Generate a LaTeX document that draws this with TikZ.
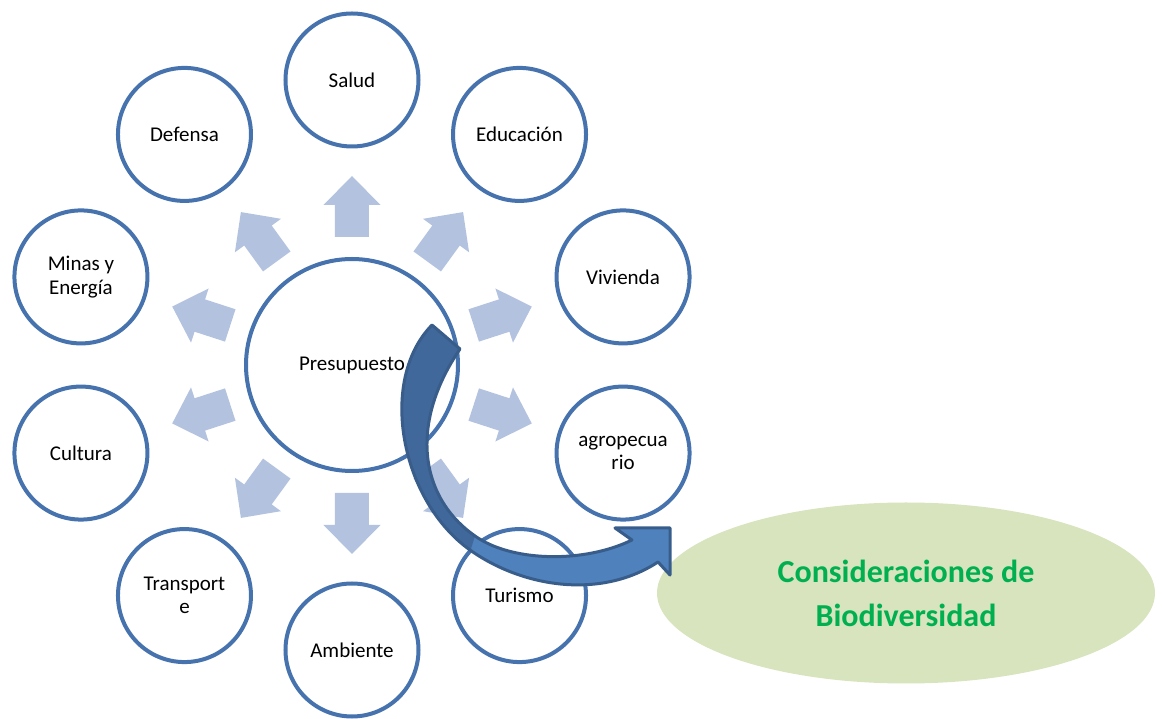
\documentclass[tikz,border=0pt]{standalone}
\usepackage{fontspec}
\setmainfont{Carlito}
\usepackage{tikz}
\usetikzlibrary{shapes,positioning}
\definecolor{ringblue}{HTML}{4672AD}
\definecolor{spokeblue}{HTML}{B3C3DF}
\definecolor{bendblue}{HTML}{4F81BD}
\definecolor{benddark}{HTML}{41689B}
\definecolor{bendline}{HTML}{385D8A}
\definecolor{goalfill}{HTML}{D7E4BD}
\definecolor{goaltext}{HTML}{00B050}
\tikzstyle{topic}=[draw=ringblue,circle,line width=4pt,fill=white,align=center,minimum size=133pt,inner sep=0pt,font=\fontsize{21}{23.5}\selectfont]
\tikzstyle{budget}=[topic,minimum size=212pt]
\tikzstyle{spoke}=[fill=spokeblue]
\tikzstyle{goal}=[ellipse,fill=goalfill,minimum width=498pt,minimum height=181pt,inner sep=0pt,align=center,text=goaltext,font=\fontsize{32}{44}\selectfont\bfseries]
\tikzstyle{bendarrow}=[draw=bendline,line width=3pt,line join=round,fill=bendblue]

\begin{document}
\begin{tikzpicture}[x=1pt,y=1pt]
\useasboundingbox (-352,-354) rectangle (810,365);

	\node[budget] (pr) at (0,0) {Presupuesto};

	\node[topic] (sa) at (90:285) {Salud};
	\node[topic] (ed) at (54:285) {Educación};
	\node[topic] (vi) at (18:285) {Vivienda};
	\node[topic] (ag) at (-18:285) {agropecua\\rio};
	\node[topic] (tu) at (-54:285) {Turismo};
	\node[topic] (am) at (-90:285) {Ambiente};
	\node[topic] (tr) at (-126:285) {Transport\\e};
	\node[topic] (cu) at (-162:285) {Cultura};
	\node[topic] (mi) at (162:285) {Minas y\\Energía};
	\node[topic] (de) at (126:285) {Defensa};

	\fill[spoke,rotate=90] (128,-17) -- (160,-17) -- (160,-28.5) -- (189,0) -- (160,28.5) -- (160,17) -- (128,17) -- cycle;
	\fill[spoke,rotate=54] (128,-17) -- (160,-17) -- (160,-28.5) -- (189,0) -- (160,28.5) -- (160,17) -- (128,17) -- cycle;
	\fill[spoke,rotate=18] (128,-17) -- (160,-17) -- (160,-28.5) -- (189,0) -- (160,28.5) -- (160,17) -- (128,17) -- cycle;
	\fill[spoke,rotate=-18] (128,-17) -- (160,-17) -- (160,-28.5) -- (189,0) -- (160,28.5) -- (160,17) -- (128,17) -- cycle;
	\fill[spoke,rotate=-54] (128,-17) -- (160,-17) -- (160,-28.5) -- (189,0) -- (160,28.5) -- (160,17) -- (128,17) -- cycle;
	\fill[spoke,rotate=-90] (128,-17) -- (160,-17) -- (160,-28.5) -- (189,0) -- (160,28.5) -- (160,17) -- (128,17) -- cycle;
	\fill[spoke,rotate=-126] (128,-17) -- (160,-17) -- (160,-28.5) -- (189,0) -- (160,28.5) -- (160,17) -- (128,17) -- cycle;
	\fill[spoke,rotate=-162] (128,-17) -- (160,-17) -- (160,-28.5) -- (189,0) -- (160,28.5) -- (160,17) -- (128,17) -- cycle;
	\fill[spoke,rotate=162] (128,-17) -- (160,-17) -- (160,-28.5) -- (189,0) -- (160,28.5) -- (160,17) -- (128,17) -- cycle;
	\fill[spoke,rotate=126] (128,-17) -- (160,-17) -- (160,-28.5) -- (189,0) -- (160,28.5) -- (160,17) -- (128,17) -- cycle;

	\node[goal] (bio) at (554,-228) {Consideraciones de\\Biodiversidad};

	% curved arrow from the budget to the ellipse
	\path[bendarrow,path picture={\fill[benddark] (28,65) -- (128,65) -- (128,-155) -- (103,-235) -- (28,-235) -- cycle;}]
	(80,40) .. controls (26,-15) and (48,-135) .. (118,-185)
	.. controls (170,-222) and (248,-235) .. (306,-197)
	-- (318,-210) -- (318,-163) -- (263,-163) -- (280,-175)
	.. controls (233,-198) and (163,-197) .. (126,-173)
	.. controls (68,-135) and (56,-60) .. (108,16) -- cycle;
\end{tikzpicture}
\end{document}
